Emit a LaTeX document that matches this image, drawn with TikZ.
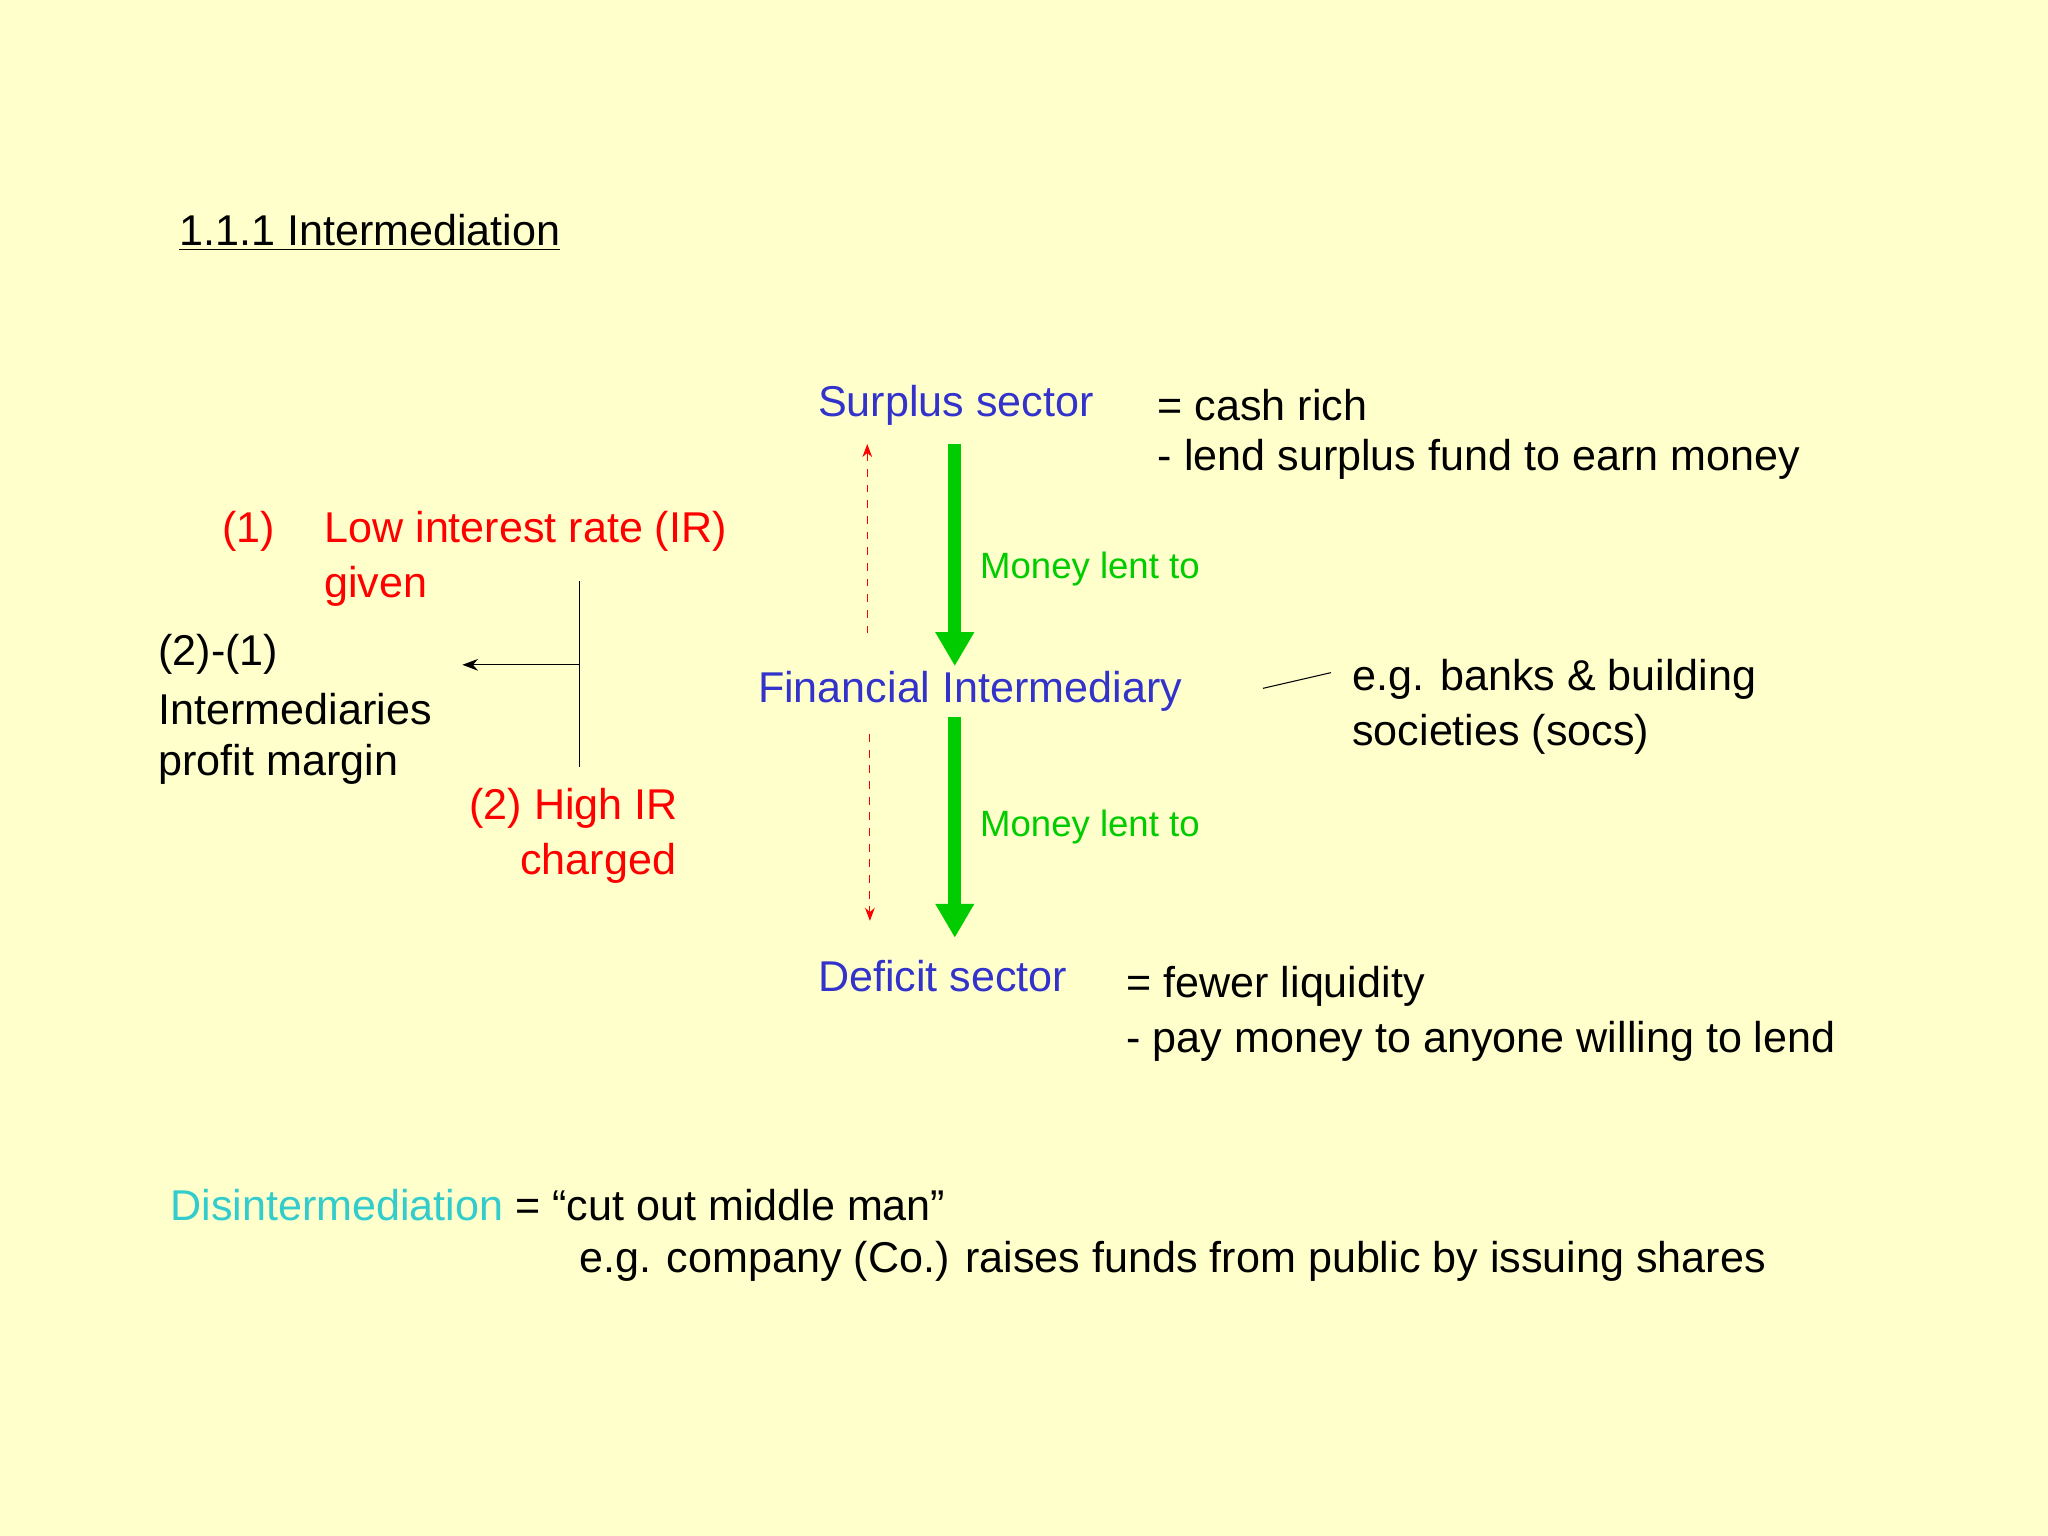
\documentclass[tikz,border=0pt]{standalone}
\usepackage{fontspec}
\setmainfont{Liberation Sans}
\usetikzlibrary{arrows.meta}
\definecolor{bgc}{RGB}{255,255,204}
\definecolor{blu}{RGB}{51,51,204}
\definecolor{rd}{RGB}{255,0,0}
\definecolor{grn}{RGB}{0,204,0}
\definecolor{cyn}{RGB}{51,204,204}
\begin{document}
\begin{tikzpicture}[x=0.5pt,y=-0.5pt,
  txt/.style={anchor=west,inner sep=0pt,font=\fontsize{16.5}{18}\selectfont},
  gtxt/.style={txt,text=grn,font=\fontsize{14}{16}\selectfont},
  flow/.style={draw=grn,line width=5pt,-{Triangle[length=13pt,width=14pt]}},
  back/.style={draw=rd,dashed,thin,-{Stealth[length=5pt]}}]
\fill[bgc] (0,0) rectangle (1568,1176);
\useasboundingbox (0,0) rectangle (1568,1176);
\node[txt] (title) at (137,178) {\underline{1.1.1 Intermediation}};
\node[txt,text=blu] (sur) at (626,310) {Surplus sector};
\node[txt] (s1) at (886,310) {= cash rich};
\node[txt] (s2) at (886,352) {- lend surplus fund to earn money};
\node[txt,text=blu] (fi) at (580,529) {Financial Intermediary};
\node[txt,text=blu] (def) at (626,747) {Deficit sector};
\node[txt] (d1) at (862,755) {= fewer liquidity};
\node[txt] (d2) at (862,797) {- pay money to anyone willing to lend};
\node[gtxt] (m1) at (750,436) {Money lent to};
\node[gtxt] (m2) at (750,633) {Money lent to};
\coordinate (g1a) at (731,340); \coordinate (g1b) at (731,510);
\coordinate (g2a) at (731,549); \coordinate (g2b) at (731,718);
\draw[flow] (g1a) -- (g1b);
\draw[flow] (g2a) -- (g2b);
\coordinate (r1a) at (664,485); \coordinate (r1b) at (664,340);
\coordinate (r2a) at (666,562); \coordinate (r2b) at (666,705);
\draw[back] (r1a) -- (r1b);
\draw[back] (r2a) -- (r2b);
\node[txt] (eg1) at (1035,520) {e.g. banks \& building};
\node[txt] (eg2) at (1035,562) {societies (socs)};
\coordinate (la) at (967,527); \coordinate (lb) at (1019,515);
\draw (la) -- (lb);
\node[txt,text=rd] (n1) at (170,407) {(1)};
\node[txt,text=rd] (low) at (248,407) {Low interest rate (IR)};
\node[txt,text=rd] (giv) at (248,449) {given};
\node[txt] (p1) at (121,501) {(2)-(1)};
\node[txt] (p2) at (121,543) {Intermediaries};
\node[txt] (p3) at (121,585) {profit margin};
\node[txt,text=rd] (hi) at (359,619) {(2) High IR};
\node[txt,text=rd] (ch) at (398,661) {charged};
\coordinate (va) at (444,445); \coordinate (vb) at (444,587);
\coordinate (hm) at (444,509); \coordinate (he) at (354,509);
\draw (va) -- (vb);
\draw[-{Stealth[length=6pt]}] (hm) -- (he);
\node[txt] (dis) at (130,923) {\textcolor{cyn}{Disintermediation} = “cut out middle man”};
\node[txt] (dis2) at (443,966) {e.g. company (Co.) raises funds from public by issuing shares};
\end{tikzpicture}
\end{document}
